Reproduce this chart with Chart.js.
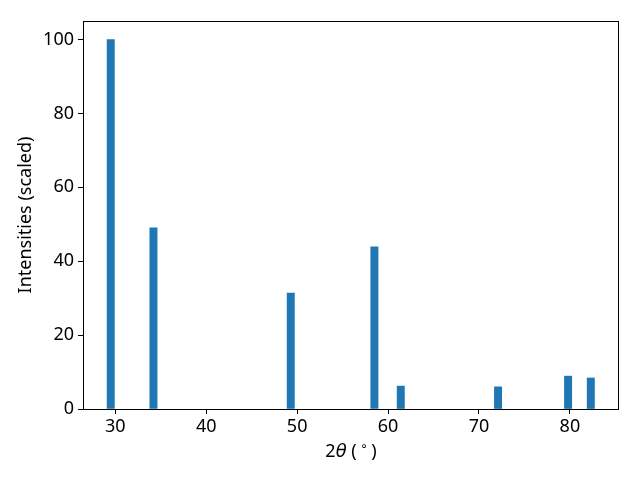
<!DOCTYPE html>
<html>
<head>
<meta charset="utf-8">
<script src="https://cdn.jsdelivr.net/npm/chart.js@4.4.1/dist/chart.umd.min.js"></script>
<style>
  html, body { margin: 0; padding: 0; background: #fff; }
  #wrap { width: 640px; height: 480px; }
</style>
</head>
<body>
<div id="wrap"><canvas id="xrd" width="640" height="480"></canvas></div>
<script>
// peak positions (2theta, degrees) and scaled intensities
const twoTheta = [29.5, 34.2, 49.3, 58.5, 61.4, 72.1, 79.8, 82.3];
const intensity = [100, 49, 31.4, 43.9, 6.2, 6.0, 8.9, 8.4];
const xTicks = [30, 40, 50, 60, 70, 80];
const yTicks = [0, 20, 40, 60, 80, 100];

const FONT = "'Noto Sans', 'Open Sans', sans-serif";
const SIZE = 18;

// frame + x label with italic theta and superscript degree
const extras = {
  id: "extras",
  afterDraw(chart) {
    const { ctx, chartArea: a } = chart;
    ctx.save();
    ctx.strokeStyle = "#000";
    ctx.lineWidth = 1;
    ctx.strokeRect(a.left + 0.5, a.top + 0.5, a.right - a.left - 1, a.bottom - a.top);

    const parts = [
      { t: "2", f: SIZE + "px " + FONT, dy: 0 },
      { t: "θ", f: "italic " + SIZE + "px 'DejaVu Sans', sans-serif", dy: 0 },
      { t: " ( ", f: SIZE + "px " + FONT, dy: 0 },
      { t: "°", f: "12px " + FONT, dy: -4 },
      { t: " )", f: SIZE + "px " + FONT, dy: 0 },
    ];
    let w = 0;
    parts.forEach(p => { ctx.font = p.f; w += ctx.measureText(p.t).width; });
    let x = (a.left + a.right) / 2 - w / 2;
    const y = 457;
    ctx.fillStyle = "#000";
    ctx.textBaseline = "alphabetic";
    parts.forEach(p => {
      ctx.font = p.f;
      ctx.fillText(p.t, x, y + p.dy);
      x += ctx.measureText(p.t).width;
    });
    ctx.restore();
  }
};

new Chart(document.getElementById("xrd"), {
  type: "bar",
  data: {
    datasets: [
      {
        data: twoTheta.map((t, i) => ({ x: t, y: intensity[i] })),
        backgroundColor: "#1f77b4",
        borderWidth: 0,
        barThickness: 7.3,
      },
    ],
  },
  options: {
    responsive: false,
    animation: false,
    layout: { padding: { top: 21, right: 21, left: 0, bottom: 0 } },
    plugins: { legend: { display: false }, tooltip: { enabled: false } },
    scales: {
      x: {
        type: "linear",
        min: 26.45,
        max: 85.4,
        offset: false,
        afterBuildTicks: s => { s.ticks = xTicks.map(v => ({ value: v })); },
        afterFit: s => { s.height = 71; },
        grid: { offset: false, drawOnChartArea: false, drawTicks: true, tickLength: 5, color: "#000" },
        border: { display: false },
        ticks: { color: "#000", font: { family: FONT, size: SIZE }, padding: 2, maxRotation: 0 },
      },
      y: {
        min: 0,
        max: 105,
        afterBuildTicks: s => { s.ticks = yTicks.map(v => ({ value: v })); },
        afterFit: s => { s.width = 83; },
        grid: { drawOnChartArea: false, drawTicks: true, tickLength: 5, color: "#000" },
        border: { display: false },
        ticks: { color: "#000", font: { family: FONT, size: SIZE }, padding: 4 },
        title: {
          display: true,
          text: "Intensities (scaled)",
          color: "#000",
          font: { family: FONT, size: SIZE },
          padding: { top: 15, bottom: 0 },
        },
      },
    },
  },
  plugins: [extras],
});
</script>
</body>
</html>
